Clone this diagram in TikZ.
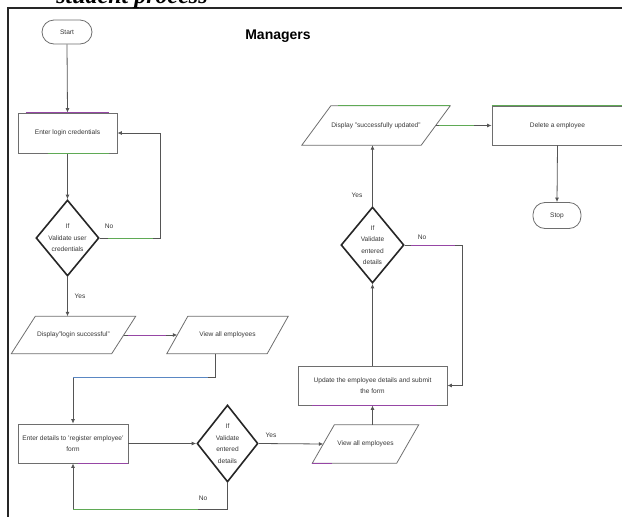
\documentclass[tikz,border=0pt]{standalone}
\usepackage{fontspec}
\setmainfont{Liberation Sans}
\newfontfamily\capfont{Liberation Serif}
\usetikzlibrary{shapes.geometric,arrows.meta,calc}

\definecolor{linegrey}{RGB}{85,85,85}
\definecolor{boxgrey}{RGB}{110,110,110}
\definecolor{txt}{RGB}{55,55,55}
\definecolor{tintgreen}{RGB}{95,170,85}
\definecolor{tintpurple}{RGB}{150,70,165}
\definecolor{tintblue}{RGB}{90,135,195}

% outline of a data (parallelogram) box around node #1 with total slant #2
\newcommand\ioframe[2]{%
  \draw[ioline] ([xshift=-#2/2]#1.south west) -- ([xshift=-#2/2]#1.south east)
    -- ([xshift=#2/2]#1.north east) -- ([xshift=#2/2]#1.north west) -- cycle;}

\begin{document}
\begin{tikzpicture}[x=1pt,y=-1pt,
  small/.style={font=\fontsize{6.6}{11.5}\selectfont, text=txt},
  box/.style={small, draw=boxgrey, line width=0.8pt, fill=white, inner sep=0pt, align=center},
  procbox/.style={box, rectangle},
  termbox/.style={box, rectangle, rounded corners=12pt},
  iobox/.style={small, rectangle, inner sep=0pt, align=center},
  ioline/.style={draw=boxgrey, line width=0.8pt},
  decision/.style={diamond, draw=black!85, line width=1.6pt, fill=white, inner sep=0pt},
  dtext/.style={small, align=center, inner sep=0pt},
  flow/.style={draw=linegrey, line width=0.8pt, -{Latex[length=4.5pt,width=4pt]}},
  tint/.style={line width=0.8pt},
  lbl/.style={small, inner sep=0pt}
]
\useasboundingbox (0,0) rectangle (622,517);

% page frame and caption
\draw[line width=2pt, black!85] (8,530) -- (8,7.5) -- (630,7.5);
\node[font=\capfont\bfseries\itshape\fontsize{24}{24}\selectfont, anchor=base] (caption) at (132,3.5) {student process};

\node[font=\bfseries\fontsize{14}{16}\selectfont] (title) at (278,36) {Managers};

% shapes
\node[termbox, minimum width=50pt, minimum height=24pt] (start) at (67,32) {Start};
\node[procbox, minimum width=99pt, minimum height=40pt] (r1) at (67.5,133) {Enter login credentials};
\node[decision, minimum width=63pt, minimum height=76pt] (d1) at (67.5,238) {};
\node[dtext] (d1t) at (d1) {If\\Validate user\\credentials};
\node[iobox, minimum width=100pt, minimum height=37pt] (p1) at (73.5,335) {Display"login successful"};
\ioframe{p1}{24pt}
\node[iobox, minimum width=100pt, minimum height=37pt] (p2) at (227.5,335) {View all employees};
\ioframe{p2}{21pt}
\node[procbox, minimum width=110pt, minimum height=39pt] (r2) at (73,443.5) {Enter details to 'register employee'\\form};
\node[decision, minimum width=61pt, minimum height=77pt] (d2) at (227.5,443.5) {};
\node[dtext] (d2t) at (d2) {If\\Validate\\entered\\details};
\node[iobox, minimum width=84pt, minimum height=38pt] (p3) at (365.5,444) {View all employees};
\ioframe{p3}{22pt}
\node[procbox, minimum width=149pt, minimum height=39pt] (r3) at (372.5,385.5) {Update the employee details and submit\\the form};
\node[decision, minimum width=63pt, minimum height=76pt] (d3) at (372.5,245) {};
\node[dtext] (d3t) at (d3) {If\\Validate\\entered\\details};
\node[iobox, minimum width=119pt, minimum height=39pt] (p4) at (376,125.5) {Display "successfully updated"};
\ioframe{p4}{29pt}
\node[procbox, minimum width=131pt, minimum height=39pt] (r4) at (557.5,125.5) {Delete a employee};
\node[termbox, minimum width=48pt, minimum height=26pt] (stop) at (557,215.5) {Stop};

% bend points of the elbow connectors
\coordinate (h1) at ($(p2.south)+(-12,24)$);
\coordinate (h2) at ($(d2.south)+(0,27)$);

% connectors
\draw[flow] (start.south) -- (r1.north);
\draw[flow] (r1.south) -- (d1.north);
\draw[flow] (d1.east) -- ++(61,0) |- (r1.east);
\draw[flow] (d1.south) -- (d1.south |- p1.north);
\draw[flow] (p1.east) -- (p2.west);
\draw[flow] (h1 |- p2.south) -- (h1) -| (r2.north);
\draw[flow] (r2.east) -- (d2.west);
\draw[flow] (d2.east) -- (p3.west);
\draw[flow] (d2.south) -- (h2) -| (r2.south);
\draw[flow] (r3.south |- p3.north) -- (r3.south);
\draw[flow] (r3.north) -- (d3.south);
\draw[flow] (d3.east) -- ++(58,0) |- (r3.east);
\draw[flow] (d3.north) -- (d3.north |- p4.south);
\draw[flow] (p4.east) -- (r4.west);
\draw[flow] (r4.south) -- (stop.north);

% coloured edge tints
\draw[tint, tintgreen] ([xshift=8pt]d1.east) -- ++(45,0);
\draw[tint, tintpurple] ([xshift=4pt]p1.east) -- ++(38,0);
\draw[tint, tintblue] ($(h1)+(-8,0)$) -- (h1 -| r2.north);
\draw[tint, tintgreen] ($(h2)+(-30,0)$) -- (h2 -| r2.south);
\draw[tint, tintpurple] ([xshift=6pt]d3.east) -- ++(44,0);
\draw[tint, tintgreen] ([xshift=3pt]p4.east) -- ++(35,0);
\draw[tint, tintpurple] ([xshift=8pt]r1.north west) -- ([xshift=-8pt]r1.north east);
\draw[tint, tintgreen] ([xshift=30pt]r1.south west) -- ([xshift=-8pt]r1.south east);
\draw[tint, tintgreen] ([xshift=22pt]p4.north west) -- ([xshift=14.5pt]p4.north east);
\draw[tint, tintgreen] (r4.north west) -- (r4.north east);
\draw[tint, tintpurple] ([xshift=60pt]r2.south west) -- (r2.south east);
\draw[tint, tintpurple] ([xshift=14pt]r3.south west) -- ([xshift=-10pt]r3.south east);
\draw[tint, tintpurple] ([xshift=-11pt]p3.south west) -- ++(20,0);

% branch labels
\node[lbl] (d1no) at (109,226) {No};
\node[lbl] (d1yes) at (80,296) {Yes};
\node[lbl] (d2yes) at (271,435) {Yes};
\node[lbl] (d2no) at (203,498) {No};
\node[lbl] (d3yes) at (357,195) {Yes};
\node[lbl] (d3no) at (422,237) {No};
\end{tikzpicture}
\end{document}
